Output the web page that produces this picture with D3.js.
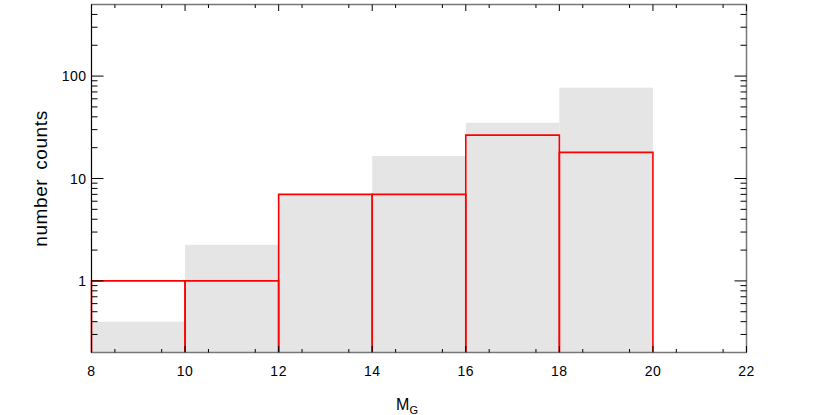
<!DOCTYPE html>
<html><head><meta charset="utf-8">
<script src="https://cdn.jsdelivr.net/npm/d3@7"></script>
<style>body{margin:0;background:#fff}svg{display:block}text{font-family:"Liberation Sans",Arial,sans-serif}</style>
</head><body>
<svg id="c" width="830" height="415"></svg>
<script>
const binEdges = [8, 10, 12, 14, 16, 18, 20];
const grayCounts = [0.4, 2.25, 7.0, 16.6, 35, 77];
const redCounts = [1, 1, 7, 7, 26.5, 18];
const xTicks = [8, 10, 12, 14, 16, 18, 20, 22];
const yTicks = [1, 10, 100];

const svg = d3.select("#c");
const L = 91.5, R = 746.5, T = 4.5, B = 352.5;
const x = d3.scaleLinear().domain([8, 22]).range([L, R]);
const y = d3.scaleLog().domain([0.2, 500]).range([B, T]);

// gray bars
svg.append("g").selectAll("rect").data(grayCounts).join("rect")
  .attr("x", (d, i) => x(binEdges[i]))
  .attr("width", (d, i) => x(binEdges[i + 1]) - x(binEdges[i]))
  .attr("y", d => y(d))
  .attr("height", d => B - y(d))
  .attr("fill", "#e5e5e5");

// red outlines
svg.append("g").selectAll("path").data(redCounts).join("path")
  .attr("d", (d, i) => `M${x(binEdges[i])},${B}V${y(d)}H${x(binEdges[i + 1])}V${B}`)
  .attr("fill", "none").attr("stroke", "#ff0000").attr("stroke-width", 1.6);

// frame
svg.append("line").attr("x1", L).attr("x2", R).attr("y1", T).attr("y2", T).attr("stroke", "#777").attr("stroke-width", 1.5);
svg.append("line").attr("x1", L).attr("x2", R).attr("y1", B).attr("y2", B).attr("stroke", "#777").attr("stroke-width", 1.5);
svg.append("line").attr("x1", R).attr("x2", R).attr("y1", T).attr("y2", B).attr("stroke", "#777").attr("stroke-width", 1.5);
svg.append("line").attr("x1", L).attr("x2", L).attr("y1", T).attr("y2", B).attr("stroke", "#000").attr("stroke-width", 1.2);

// ticks
const xMinor = d3.range(8.5, 22, 1);
const tg = svg.append("g").attr("stroke", "#000").attr("stroke-width", 1);
xMinor.forEach(v => {
  tg.append("line").attr("x1", x(v)).attr("x2", x(v)).attr("y1", B).attr("y2", B - 3.5);
  tg.append("line").attr("x1", x(v)).attr("x2", x(v)).attr("y1", T).attr("y2", T + 3.5);
});
xTicks.forEach(v => {
  tg.append("line").attr("x1", x(v)).attr("x2", x(v)).attr("y1", B).attr("y2", B - 6.5);
  tg.append("line").attr("x1", x(v)).attr("x2", x(v)).attr("y1", T).attr("y2", T + 6.5);
});
const yMinor = [];
[0.1, 1, 10, 100].forEach(dec => { for (let k = 2; k <= 9; k++) { const v = dec * k; if (v > 0.2 && v < 500) yMinor.push(v); } });
yMinor.forEach(v => {
  tg.append("line").attr("x1", L).attr("x2", L + 6).attr("y1", y(v)).attr("y2", y(v));
  tg.append("line").attr("x1", R).attr("x2", R - 6).attr("y1", y(v)).attr("y2", y(v));
});
yTicks.forEach(v => {
  tg.append("line").attr("x1", L).attr("x2", L + 12).attr("y1", y(v)).attr("y2", y(v));
  tg.append("line").attr("x1", R).attr("x2", R - 12).attr("y1", y(v)).attr("y2", y(v));
});

// tick labels
svg.append("g").selectAll("text").data(xTicks).join("text")
  .attr("x", d => x(d)).attr("y", B + 23).attr("text-anchor", "middle")
  .attr("font-size", 14).attr("letter-spacing", 0.5).text(d => d);
svg.append("g").selectAll("text").data(yTicks).join("text")
  .attr("x", L - 5).attr("y", d => y(d) + 5).attr("text-anchor", "end")
  .attr("font-size", 14).attr("letter-spacing", 0.5).text(d => d);

// axis titles
svg.append("text").attr("transform", `translate(47,${(T + B) / 2}) rotate(-90)`)
  .attr("text-anchor", "middle").attr("font-size", 19).attr("letter-spacing", 0.6)
  .attr("word-spacing", 3).text("number counts");
const xt = svg.append("text").attr("x", (L + R) / 2 - 12).attr("y", 410).attr("text-anchor", "middle").attr("font-size", 16);
xt.append("tspan").text("M");
xt.append("tspan").attr("font-size", 11).attr("dy", 4).text("G");
</script>
</body></html>
